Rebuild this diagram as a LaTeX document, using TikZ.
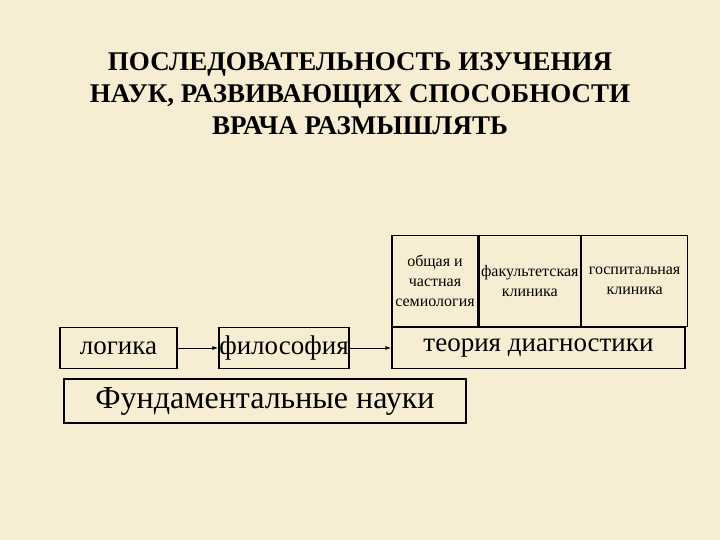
\documentclass[tikz,border=0pt]{standalone}
\usepackage{fontspec}
\setmainfont{Liberation Serif}
\usetikzlibrary{arrows.meta}
\definecolor{bg}{HTML}{F7EDD3}
\begin{document}
\begin{tikzpicture}[x=1pt,y=-1pt,
  bx/.style={draw=black,line width=1.3pt,inner sep=0pt},
  cell/.style={bx,minimum height=91pt,anchor=south west,align=center,font=\fontsize{16}{20}\selectfont},
  arr/.style={-{Latex[length=6pt,width=4pt]},line width=1pt}]
\fill[bg] (0,0) rectangle (720,540);
\useasboundingbox (0,0) rectangle (720,540);
\node[font=\bfseries\fontsize{27}{32}\selectfont,align=center] (title) at (360,94)
 {ПОСЛЕДОВАТЕЛЬНОСТЬ ИЗУЧЕНИЯ\\НАУК, РАЗВИВАЮЩИХ СПОСОБНОСТИ\\ВРАЧА РАЗМЫШЛЯТЬ};
\node[bx,minimum width=117pt,minimum height=41pt,font=\fontsize{27}{29}\selectfont] (log) at (118.5,348) {логика};
\node[bx,minimum width=130pt,minimum height=41pt,font=\fontsize{27}{29}\selectfont] (fil) at (284,348) {философия};
\node[bx,minimum width=293pt,minimum height=41pt,font=\fontsize{27}{29}\selectfont] (teo) at (538.5,348) {теория диагностики};
\node[cell,minimum width=86pt] (c1) at (teo.north west) {общая и\\частная\\семиология};
\node[cell,minimum width=101pt] (c2) at (c1.south east) {факультетская\\клиника};
\node[cell,minimum width=106pt] (c3) at (c2.south east) {госпитальная\\клиника};
\node[draw,line width=2pt,minimum width=402pt,minimum height=44pt,font=\fontsize{32}{34}\selectfont] (fund) at (265,401) {Фундаментальные науки};
\draw[arr] (log) -- (fil);
\draw[arr] (fil) -- (teo);
\end{tikzpicture}
\end{document}
